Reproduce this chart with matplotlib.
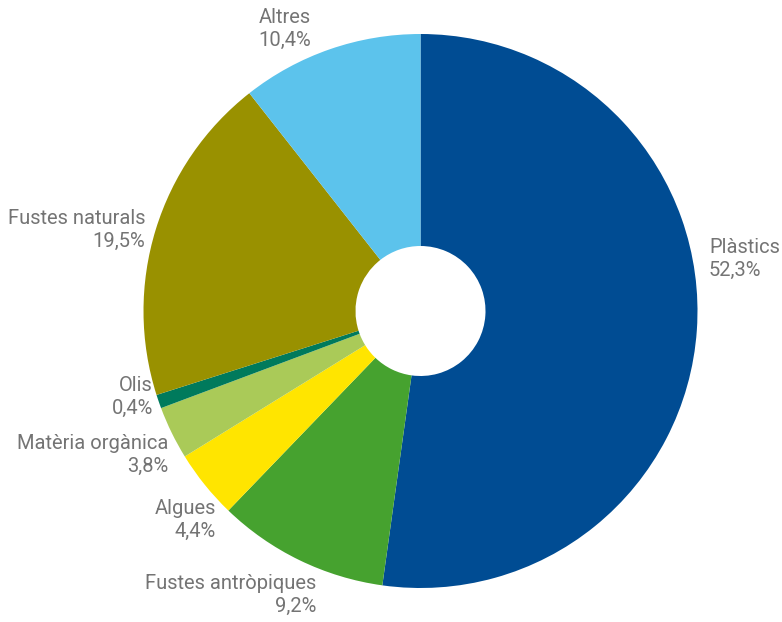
"""Donut chart: composition of floating debris."""
import matplotlib
matplotlib.use("Agg")
import matplotlib.pyplot as plt

categories = ["Plàstics", "Fustes antròpiques", "Algues", "Matèria orgànica",
              "Olis", "Fustes naturals", "Altres"]
# percentages printed in the labels
label_values = [52.3, 9.2, 4.4, 3.8, 0.4, 19.5, 10.4]
# slice sizes as drawn in the picture (they differ slightly from the labels)
slice_shares = [52.2, 10.0, 4.0, 3.1, 0.8, 19.3, 10.6]
colors = ["#004C93", "#46A22F", "#FFE500", "#AACA58", "#007A5C", "#999100", "#5CC3EC"]

# label anchors in pixel units (x, y from bottom), alignment
label_pos = {
    "Plàstics": (709, 363, "left"),
    "Fustes antròpiques": (316, 27, "right"),
    "Algues": (216, 102, "right"),
    "Matèria orgànica": (168, 167, "right"),
    "Olis": (153, 225, "right"),
    "Fustes naturals": (145, 392, "right"),
    "Altres": (311, 593, "right"),
}

W, H = 782, 622
fig = plt.figure(figsize=(W / 100, H / 100), dpi=100)
ax = fig.add_axes([0, 0, 1, 1])

outer_r = 277
hole_r = 65
ax.pie(slice_shares, colors=colors, startangle=90, counterclock=False,
       center=(420.5, 311), radius=outer_r, frame=True,
       wedgeprops=dict(width=outer_r - hole_r, linewidth=0))
ax.set_xlim(0, W)
ax.set_ylim(0, H)
ax.set_aspect("equal")
ax.axis("off")

for cat, val in zip(categories, label_values):
    x, y, ha = label_pos[cat]
    txt = "%s\n%s%%" % (cat, ("%.1f" % val).replace(".", ","))
    ax.text(x, y, txt, ha=ha, va="center", multialignment=ha,
            fontsize=14.5, color="#747474", family="Roboto", linespacing=1.32)

fig.savefig("out.png", dpi=100)
